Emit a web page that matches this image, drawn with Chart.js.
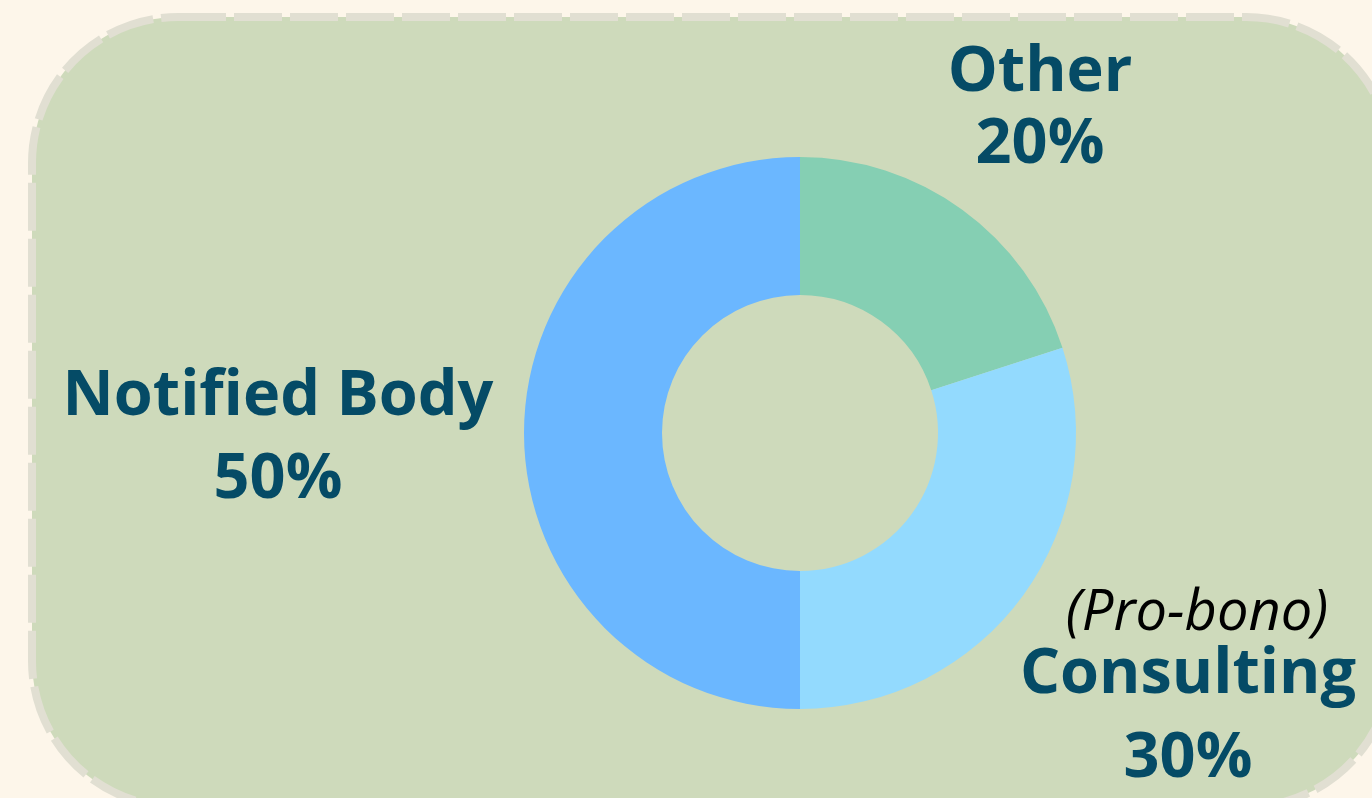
<!DOCTYPE html>
<html>
<head>
<meta charset="utf-8">
<script src="https://cdn.jsdelivr.net/npm/chart.js@4/dist/chart.umd.min.js"></script>
<style>
  html, body { margin: 0; padding: 0; background: #fdf6ea; }
  #wrap { width: 1372px; height: 798px; position: relative; }
</style>
</head>
<body>
<div id="wrap"><canvas id="grafica"></canvas></div>
<script>
// datos
const categorias = ['Other', 'Consulting', 'Notified Body'];
const porcentajes = [20, 30, 50];
const notas = ['', '(Pro-bono)', ''];
const colores = ['#85cfb3', '#93dafe', '#6bb7ff'];

const azulTexto = '#054b66';

// caja redondeada con borde discontinuo detrás del gráfico
const fondoCaja = {
    id: 'fondoCaja',
    beforeDraw(chart) {
        const ctx = chart.ctx;
        ctx.save();
        ctx.beginPath();
        ctx.roundRect(32, 17, 1360, 790, 146);
        ctx.fillStyle = '#cedabb';
        ctx.fill();
        ctx.setLineDash([48, 8]);
        ctx.lineWidth = 8;
        ctx.strokeStyle = '#e1dfd2';
        ctx.stroke();
        ctx.restore();
    }
};

// etiquetas grandes junto a cada sector
const etiquetas = {
    id: 'etiquetas',
    afterDraw(chart) {
        const ctx = chart.ctx;
        const arco = chart.getDatasetMeta(0).data[0];
        const cx = arco.x, cy = arco.y;
        // desplazamientos respecto al centro del donut
        const posiciones = [
            { dx: 240, dy: -342, salto: 72 },
            { dx: 388, dy: 260, salto: 84 },
            { dx: -522, dy: -18, salto: 83 }
        ];
        ctx.save();
        ctx.textAlign = 'center';
        ctx.textBaseline = 'alphabetic';
        categorias.forEach((cat, i) => {
            const p = posiciones[i];
            const x = cx + p.dx, y = cy + p.dy;
            if (notas[i]) {
                ctx.font = 'italic 400 56px "Open Sans"';
                ctx.fillStyle = '#000000';
                ctx.fillText(notas[i], x + 9, y - 63);
            }
            ctx.font = '700 63px "Open Sans"';
            ctx.fillStyle = azulTexto;
            ctx.fillText(cat, x, y);
            ctx.fillText(porcentajes[i] + '%', x, y + p.salto);
        });
        ctx.restore();
    }
};

new Chart(document.getElementById('grafica'), {
    type: 'doughnut',
    data: {
        labels: categorias,
        datasets: [{
            data: porcentajes,
            backgroundColor: colores,
            borderWidth: 0,
            hoverOffset: 0
        }]
    },
    options: {
        responsive: true,
        maintainAspectRatio: false,
        animation: false,
        cutout: '50%',
        layout: {
            padding: { left: 524, right: 296, top: 157, bottom: 89 }
        },
        plugins: {
            legend: { display: false },
            tooltip: { enabled: false }
        }
    },
    plugins: [fondoCaja, etiquetas]
});
</script>
</body>
</html>
